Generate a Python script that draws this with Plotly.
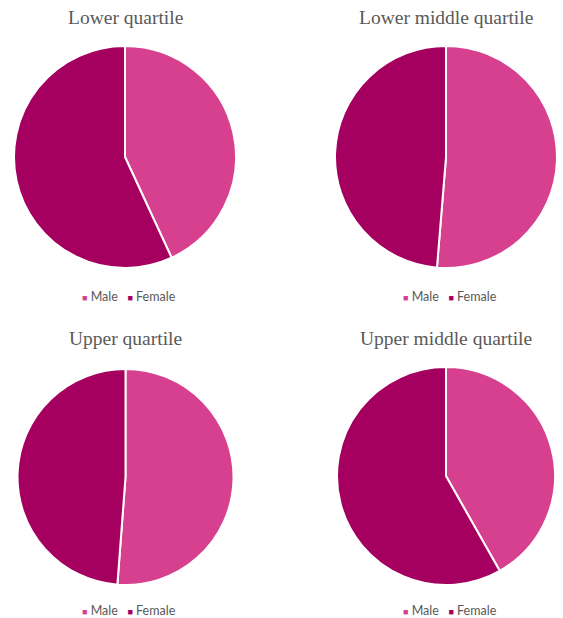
import plotly.graph_objects as go

W, H = 563, 618
titles = ["Lower quartile", "Lower middle quartile", "Upper quartile", "Upper middle quartile"]
labels = ["Male", "Female"]
male = [43.1, 51.3, 51.2, 41.8]
female = [56.9, 48.7, 48.8, 58.2]
colors = ["#D6408F", "#A5005F"]

# pixel boxes for the pies: (x0, x1, y0, y1) in pixels from top-left
boxes = [(14, 236, 46, 268), (335, 557, 46, 268), (17, 234, 369, 585), (337, 555, 367, 585)]
title_pos = [(125, 18), (446, 18), (125, 338), (446, 338)]
legend_pos = [(129, 296), (450, 296), (129, 610), (450, 610)]

fig = go.Figure()
for i in range(4):
    x0, x1, y0, y1 = boxes[i]
    fig.add_trace(go.Pie(
        labels=labels, values=[male[i], female[i]],
        sort=False, direction="clockwise", rotation=0,
        marker=dict(colors=colors, line=dict(color="white", width=2)),
        textinfo="none", hoverinfo="label+percent",
        domain=dict(x=[x0 / W, x1 / W], y=[1 - y1 / H, 1 - y0 / H]),
        showlegend=False,
    ))
    tx, ty = title_pos[i]
    fig.add_annotation(text=titles[i], x=tx / W, y=1 - ty / H, xref="paper", yref="paper",
                       showarrow=False, xanchor="center", yanchor="middle",
                       font=dict(family="Liberation Serif", size=19.5, color="#595959"))
    lx, ly = legend_pos[i]
    leg = "&nbsp;&nbsp;&nbsp;".join(
        f"<span style='color:{c};font-size:9px'>■</span> {l}" for l, c in zip(labels, colors))
    fig.add_annotation(text=leg, x=lx / W, y=1 - ly / H, xref="paper", yref="paper",
                       showarrow=False, xanchor="center", yanchor="middle", borderpad=0,
                       font=dict(family="Lato", size=12.5, color="#595959"))

fig.update_layout(width=W, height=H, margin=dict(l=0, r=0, t=0, b=0),
                  paper_bgcolor="white", plot_bgcolor="white")
fig.write_html("out.html")
